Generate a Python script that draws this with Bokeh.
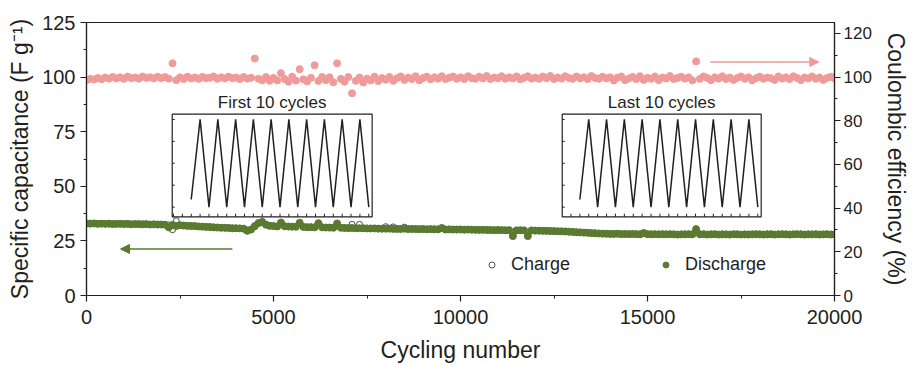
from bokeh.plotting import figure
from bokeh.models import (Range1d, LinearAxis, SingleIntervalTicker, Legend, LegendItem,
                          Arrow, NormalHead, Label)
from bokeh.embed import file_html
from bokeh.resources import INLINE

# ---------------- data ----------------
cycles = list(range(0, 20001, 100))

coulombic_efficiency = [
    98.6, 99.2, 98.9, 99.6, 99.0, 99.8, 99.3, 100.1, 99.4, 99.9, 99.2, 100.2, 99.5, 99.8, 99.3, 100.3, 99.6, 99.9, 99.4, 100.2,
    99.5, 100.0, 99.3, 106.3, 98.6, 99.9, 99.1, 100.2, 99.4, 99.8, 99.2, 100.1, 99.5, 99.7, 100.3, 99.2, 99.9, 99.4, 100.2, 99.5,
    99.8, 99.1, 100.1, 99.3, 99.7, 108.5, 99.2, 98.6, 100.0, 98.3, 99.6, 98.5, 101.8, 99.1, 97.9, 100.2, 98.4, 103.6, 99.0, 98.0,
    99.7, 105.4, 98.2, 100.1, 98.6, 99.9, 97.6, 106.3, 99.2, 97.9, 100.0, 92.6, 98.3, 99.8, 97.5, 99.3, 98.5, 100.2, 98.2, 99.6,
    98.8, 100.1, 98.3, 99.5, 100.3, 98.7, 99.8, 99.1, 100.4, 98.5, 99.6, 100.2, 99.0, 99.9, 99.3, 100.4, 99.1, 99.7, 100.3, 99.2,
    99.9, 99.1, 100.4, 99.5, 99.2, 100.2, 99.4, 100.5, 99.1, 99.8, 99.5, 100.4, 99.2, 99.9, 99.4, 100.3, 99.0, 99.7, 100.4, 99.3,
    99.8, 99.2, 100.3, 99.5, 100.5, 99.1, 99.8, 99.3, 100.4, 99.6, 99.2, 100.3, 99.4, 99.9, 99.1, 100.5, 99.6, 99.2, 100.2, 99.4,
    99.9, 98.5, 99.7, 100.3, 98.6, 99.4, 100.1, 99.1, 100.4, 98.7, 99.7, 99.2, 100.3, 98.6, 99.8, 99.4, 100.5, 99.1, 99.6, 100.2,
    99.3, 99.9, 98.5, 107.2, 99.2, 100.3, 99.6, 98.6, 99.9, 99.3, 100.4, 99.1, 99.8, 98.7, 99.6, 100.3, 99.2, 99.9, 98.5, 99.5,
    100.2, 99.2, 99.8, 99.5, 98.7, 100.3, 99.3, 99.9, 99.1, 100.4, 99.6, 98.6, 99.8, 99.4, 100.3, 99.2, 99.8, 98.7, 99.6, 100.2,
    99.4,
]

discharge_capacitance = [
    33.0, 32.9, 33.0, 32.8, 32.9, 32.8, 32.9, 32.7, 32.8, 32.8, 32.7, 32.8, 32.6, 32.7, 32.7, 32.6, 32.7, 32.5, 32.6, 32.5,
    32.5, 32.4, 31.2, 32.3, 31.8, 32.2, 32.0, 31.9, 31.8, 31.8, 31.6, 31.5, 31.4, 31.4, 31.2, 31.1, 31.0, 31.0, 30.9, 30.8,
    30.8, 30.7, 30.6, 29.6, 30.2, 31.8, 33.2, 33.6, 32.4, 31.9, 31.8, 31.6, 33.4, 31.7, 31.6, 31.5, 31.5, 33.3, 31.4, 31.3,
    31.3, 31.2, 33.1, 31.2, 31.1, 31.1, 31.0, 33.0, 31.0, 30.9, 30.9, 30.9, 30.8, 30.8, 30.8, 30.7, 30.7, 30.7, 30.6, 30.6,
    30.6, 30.6, 30.5, 30.5, 30.5, 30.6, 30.4, 30.5, 30.4, 30.4, 30.4, 30.3, 30.4, 30.3, 30.3, 30.9, 30.2, 30.3, 30.2, 30.2,
    30.2, 30.1, 30.2, 30.1, 30.1, 30.0, 30.1, 30.0, 30.0, 29.9, 30.0, 29.9, 29.9, 29.9, 27.2, 29.8, 29.9, 29.8, 27.2, 29.8,
    29.7, 29.7, 29.6, 29.6, 29.5, 29.5, 29.4, 29.4, 29.3, 29.2, 29.1, 29.0, 28.9, 28.8, 28.7, 28.6, 28.5, 28.4, 28.3, 28.3,
    28.2, 28.2, 28.3, 28.1, 28.2, 28.1, 28.2, 28.1, 28.0, 28.6, 28.1, 28.0, 28.1, 28.0, 28.1, 28.0, 28.1, 28.0, 27.9, 28.0,
    28.0, 28.1, 28.0, 30.4, 28.0, 28.1, 27.9, 28.0, 28.1, 27.9, 28.0, 28.0, 27.9, 28.1, 28.0, 27.9, 28.0, 27.9, 28.0, 28.1,
    28.0, 27.9, 28.0, 28.1, 27.9, 28.0, 28.1, 28.0, 27.9, 28.0, 28.1, 28.0, 27.9, 28.0, 28.0, 28.1, 27.9, 28.0, 28.1, 27.9,
    28.0,
]

charge_capacitance = [
    33.1, 33.0, 32.9, 32.9, 32.8, 32.9, 32.8, 32.8, 32.7, 32.9, 32.8, 32.7, 32.7, 32.8, 32.6, 32.7, 32.6, 32.6, 32.5, 32.6,
    32.4, 32.5, 32.3, 30.1, 34.2, 32.1, 32.1, 31.8, 31.9, 31.7, 31.7, 31.6, 31.5, 31.3, 31.3, 31.2, 31.1, 30.9, 31.0, 30.9,
    30.7, 30.8, 30.5, 30.0, 30.3, 31.6, 33.0, 33.9, 32.6, 32.0, 31.7, 31.7, 33.2, 31.8, 31.5, 31.6, 31.4, 33.1, 31.5, 31.2,
    31.4, 31.3, 32.9, 31.3, 31.2, 31.0, 31.1, 32.8, 31.1, 31.0, 30.8, 32.6, 30.9, 32.6, 30.7, 30.8, 30.6, 30.8, 30.7, 30.5,
    31.5, 30.7, 31.4, 30.6, 30.4, 31.3, 30.5, 30.4, 30.5, 30.3, 30.5, 30.4, 30.3, 30.4, 30.2, 30.8, 30.3, 30.2, 30.3, 30.1,
    30.3, 30.2, 30.1, 30.2, 30.0, 30.1, 30.0, 30.1, 29.9, 30.0, 29.9, 30.0, 29.8, 30.0, 27.4, 29.9, 29.8, 29.9, 27.4, 29.7,
    29.8, 29.6, 29.7, 29.5, 29.6, 29.4, 29.5, 29.3, 29.4, 29.1, 29.2, 28.9, 29.0, 28.7, 28.8, 28.5, 28.6, 28.3, 28.4, 28.2,
    28.3, 28.1, 28.2, 28.2, 28.1, 28.2, 28.1, 28.2, 28.1, 28.5, 28.0, 28.1, 28.0, 28.1, 28.0, 28.1, 28.0, 28.1, 28.0, 27.9,
    28.1, 28.0, 28.1, 30.2, 28.1, 28.0, 28.0, 28.1, 28.0, 28.0, 28.1, 27.9, 28.0, 28.0, 28.1, 28.0, 27.9, 28.1, 28.0, 28.0,
    28.1, 28.0, 28.1, 28.0, 28.0, 28.1, 28.0, 28.1, 28.0, 28.1, 28.0, 28.1, 28.0, 28.1, 27.9, 28.0, 28.1, 28.0, 28.0, 28.1,
    28.0,
]

# inset galvanostatic charge/discharge curves (half-cycle index, potential in V)
inset_time = [2, 3, 4, 5, 6, 7, 8, 9, 10, 11, 12, 13, 14, 15, 16, 17, 18, 19, 20, 21, 22]
first_potential = [0.07, 0.8, 0.0, 0.8, 0.0, 0.8, 0.0, 0.8, 0.0, 0.8, 0.0,
                   0.8, 0.0, 0.8, 0.0, 0.8, 0.0, 0.8, 0.0, 0.8, 0.0]
last_potential = [0.07, 0.8, 0.0, 0.8, 0.0, 0.8, 0.0, 0.8, 0.0, 0.8, 0.0,
                  0.8, 0.0, 0.8, 0.0, 0.8, 0.0, 0.8, 0.0, 0.8, 0.0]
inset_yticks = [0.0, 0.2, 0.4, 0.6, 0.8]
first_xticks = [0, 1, 2, 3, 4, 5, 6, 7, 8, 9, 10, 11, 12, 13, 14, 15, 16, 17, 18, 19, 20, 21, 22]
last_xticks = [1, 2, 3, 4, 5, 6, 7, 8, 9, 10, 11, 12, 13, 14, 15, 16, 17, 18, 19, 20, 21, 22]

# ---------------- style ----------------
FONT = "Liberation Sans"
INK = "#231f20"
PINK = "#f09a9a"
GREEN = "#5a7a30"
CHARGE_EDGE = "#4a4a62"

p = figure(width=912, height=365, x_range=Range1d(0, 20000), y_range=Range1d(0, 125),
           output_backend="svg", toolbar_location=None,
           min_border_left=86, min_border_right=78, min_border_top=22, min_border_bottom=69)
p.xgrid.grid_line_color = None
p.ygrid.grid_line_color = None
p.outline_line_color = INK
p.outline_line_width = 1.2
p.background_fill_color = "white"


def inset_range(lo, hi, f0, f1):
    span = (hi - lo) / (f1 - f0)
    start = lo - f0 * span
    return Range1d(start, start + span)


# inset placement (fractions of the plot frame) and data extents
IN1_X = (-0.14, 22.38)
IN2_X = (0.02, 22.38)
IN_Y = (-0.088, 0.848)
p.extra_y_ranges = {"ce": Range1d(0, 125),
                    "iny": inset_range(IN_Y[0], IN_Y[1], 0.2883, 0.6642)}
p.extra_x_ranges = {"in1": inset_range(IN1_X[0], IN1_X[1], 0.1146, 0.3819),
                    "in2": inset_range(IN2_X[0], IN2_X[1], 0.636, 0.902)}

# axes
p.xaxis.ticker = SingleIntervalTicker(interval=5000, num_minor_ticks=2)
p.yaxis.ticker = SingleIntervalTicker(interval=25, num_minor_ticks=2)
p.xaxis.axis_label = "Cycling number"
p.yaxis.axis_label = "Specific capacitance (F g\u207b\u00b9)"
right = LinearAxis(y_range_name="ce", ticker=SingleIntervalTicker(interval=20, num_minor_ticks=2),
                   axis_label="Coulombic efficiency (%)")
p.add_layout(right, "right")

for ax in [p.xaxis[0], p.yaxis[0], right]:
    ax.axis_line_color = INK
    ax.axis_line_width = 1.2
    ax.major_tick_line_color = INK
    ax.minor_tick_line_color = INK
    ax.major_tick_line_width = 1.2
    ax.minor_tick_line_width = 1.0
    ax.major_tick_out = 6
    ax.major_tick_in = 0
    ax.minor_tick_out = 3
    ax.minor_tick_in = 0
    ax.major_label_text_font = FONT
    ax.major_label_text_font_size = "20px"
    ax.major_label_text_color = INK
    ax.major_label_standoff = 5
    ax.axis_label_text_font = FONT
    ax.axis_label_text_font_size = "23px"
    ax.axis_label_text_font_style = "normal"
    ax.axis_label_text_color = INK
    ax.axis_label_standoff = 6
right.major_label_text_font_size = "17px"
right.major_label_standoff = 3
right.axis_label_standoff = 8
p.xaxis.major_label_standoff = 8
p.xaxis.major_label_text_line_height = 1.0
p.xaxis.axis_label_text_line_height = 1.0
p.xaxis.axis_label_standoff = 10

# main data
r_ce = p.scatter(cycles, coulombic_efficiency, y_range_name="ce", marker="circle", size=7,
                 fill_color=PINK, line_color=PINK)
r_ch = p.scatter(cycles, charge_capacitance, marker="circle", size=6, fill_color=None,
                 line_color=CHARGE_EDGE, line_width=1)
r_dc = p.scatter(cycles, discharge_capacitance, marker="circle", size=7, fill_color=GREEN,
                 line_color=GREEN)

# insets
for xr, (x0, x1), volts, xticks, title in [
        ("in1", IN1_X, first_potential, first_xticks, "First 10 cycles"),
        ("in2", IN2_X, last_potential, last_xticks, "Last 10 cycles")]:
    p.quad(left=[x0], right=[x1], bottom=[IN_Y[0]], top=[IN_Y[1]], x_range_name=xr, y_range_name="iny",
           fill_color="white", line_color=INK, line_width=1.2)
    p.segment(x0=xticks, y0=[IN_Y[0]] * len(xticks), x1=xticks, y1=[IN_Y[0] + 0.028] * len(xticks),
              x_range_name=xr, y_range_name="iny", line_color=INK, line_width=1)
    p.segment(x0=[x0] * len(inset_yticks), y0=inset_yticks, x1=[x0 + 0.28] * len(inset_yticks),
              y1=inset_yticks, x_range_name=xr, y_range_name="iny", line_color=INK, line_width=1)
    p.line(inset_time, volts, x_range_name=xr, y_range_name="iny", line_color=INK, line_width=1.5)
    p.add_layout(Label(x=(x0 + x1) / 2, y=IN_Y[1], x_range_name=xr, y_range_name="iny", y_offset=2,
                       text=title, text_align="center", text_baseline="bottom",
                       text_font=FONT, text_font_size="17px", text_color=INK))

# arrows
p.add_layout(Arrow(end=NormalHead(size=9, fill_color=GREEN, line_color=GREEN),
                   x_start=3900, y_start=21.3, x_end=910, y_end=21.3,
                   line_color=GREEN, line_width=1.5))
p.add_layout(Arrow(end=NormalHead(size=9, fill_color=PINK, line_color=PINK),
                   x_start=16680, y_start=106.9, x_end=19580, y_end=106.9, y_range_name="ce",
                   line_color=PINK, line_width=1.5))

# legend
legend = Legend(items=[LegendItem(label="Charge", renderers=[r_ch]),
                       LegendItem(label="Discharge", renderers=[r_dc])],
                orientation="horizontal", location=(398, 20),
                glyph_width=15, glyph_height=15, label_standoff=12, spacing=88,
                padding=0, margin=0, border_line_color=None, background_fill_alpha=0,
                label_text_font=FONT, label_text_font_size="18px", label_text_color=INK)
p.add_layout(legend)

open("out.html", "w").write(file_html(p, INLINE))
